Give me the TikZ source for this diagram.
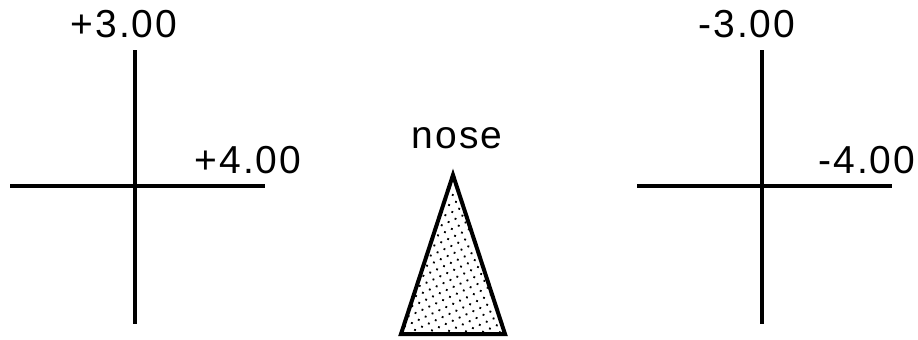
\documentclass[tikz,border=0pt]{standalone}
\usepackage{fontspec}
\setmainfont{Liberation Sans}[LetterSpace=5]
\usepackage{tikz}
\usetikzlibrary{patterns.meta}

\begin{document}
\begin{tikzpicture}[
    x=0.5pt, y=-0.5pt,
    font=\fontsize{19.5}{22}\selectfont,
    axis/.style = {line width=2.1pt},
    val/.style = {anchor=base, inner sep=0pt},
    nosebox/.style = {draw, line width=2pt, line join=miter, pattern={Dots[distance=3.8pt, radius=0.65pt, angle=25]}}
]
    \useasboundingbox (0,0) rectangle (918,339);

    % left cross
    \coordinate (ltop) at (135,50);
    \coordinate (lbot) at (135,324);
    \coordinate (lleft) at (10,186);
    \coordinate (lright) at (265,186);
    \draw[axis] (ltop) -- (lbot);
    \draw[axis] (lleft) -- (lright);
    \node[val] (lup) at (124,37) {+3.00};
    \node[val] (lside) at (248,173) {+4.00};

    % nose
    \coordinate (tip) at (453,175);
    \coordinate (bl) at (401,334);
    \coordinate (br) at (505,334);
    \draw[nosebox] (tip) -- (br) -- (bl) -- cycle;
    \node[val] (nose) at (457,148) {nose};

    % right cross
    \coordinate (rtop) at (762,50);
    \coordinate (rbot) at (762,324);
    \coordinate (rleft) at (637,186);
    \coordinate (rright) at (892,186);
    \draw[axis] (rtop) -- (rbot);
    \draw[axis] (rleft) -- (rright);
    \node[val] (rup) at (747,37) {-3.00};
    \node[val] (rside) at (867,173) {-4.00};
\end{tikzpicture}
\end{document}
